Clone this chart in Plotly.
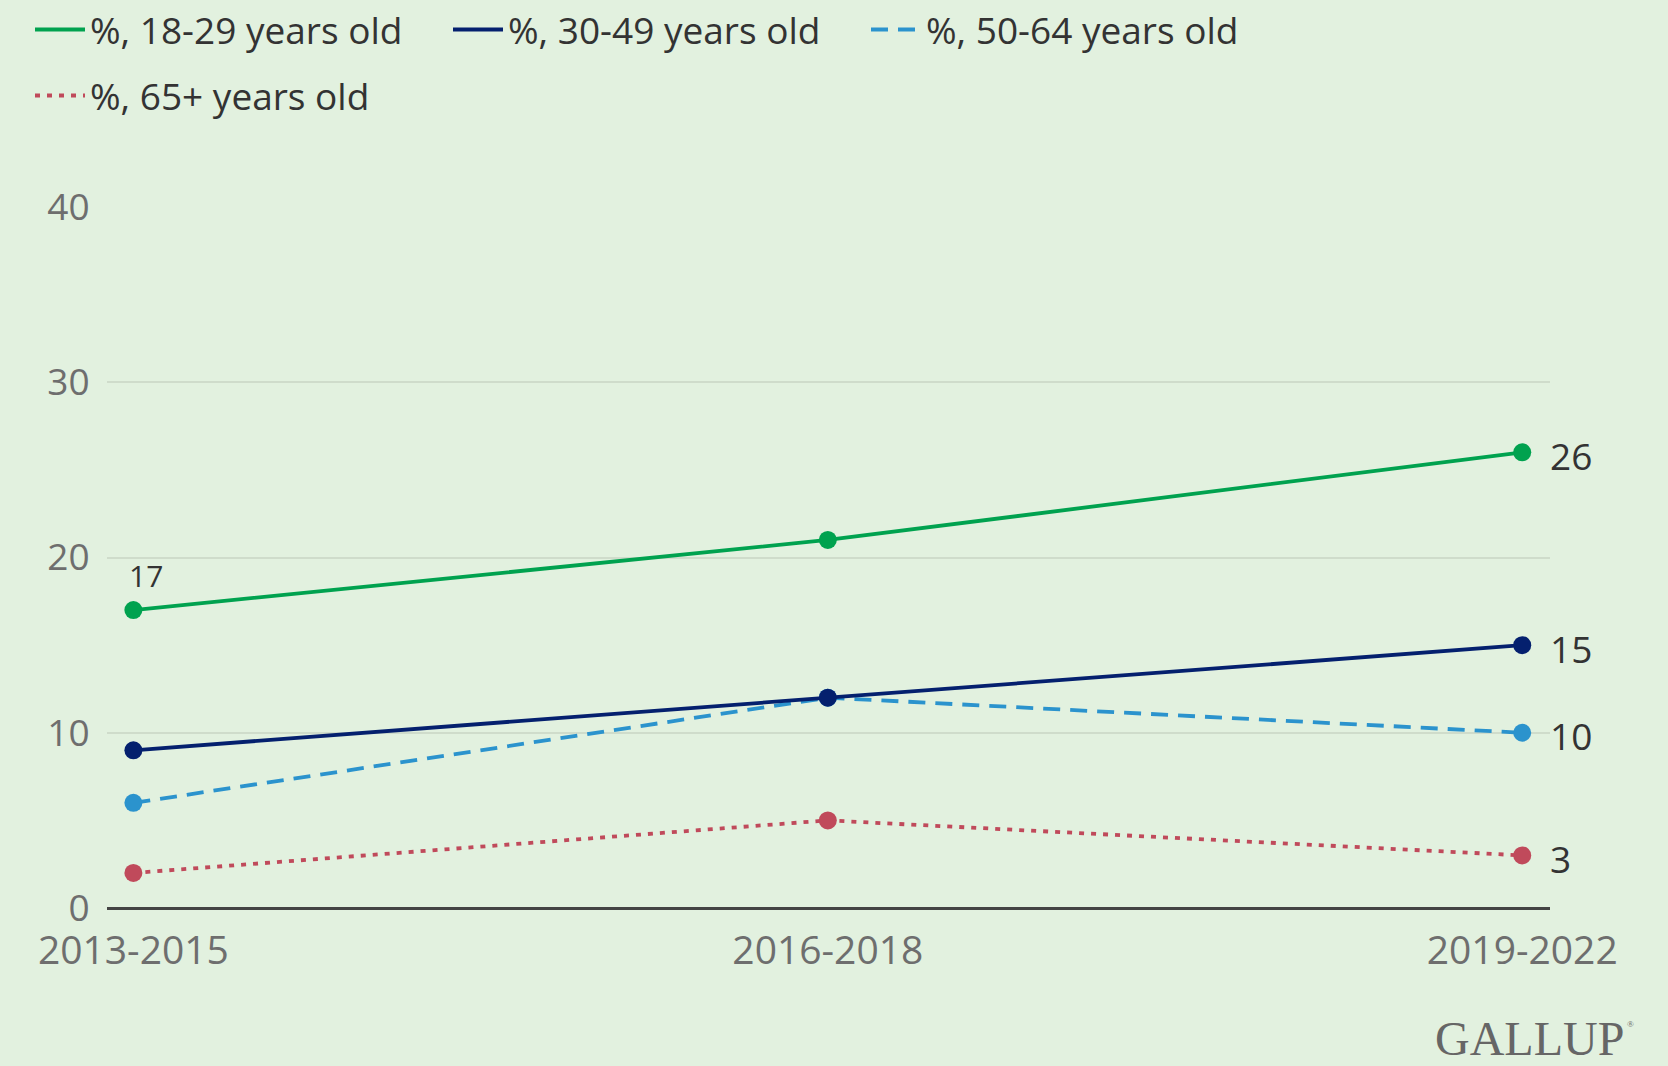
import plotly.graph_objects as go

periods = ["2013-2015", "2016-2018", "2019-2022"]
series_names = ["%, 18-29 years old", "%, 30-49 years old", "%, 50-64 years old", "%, 65+ years old"]
age_18_29 = [17, 21, 26]
age_30_49 = [9, 12, 15]
age_50_64 = [6, 12, 10]
age_65_plus = [2, 5, 3]
y_ticks = [0, 10, 20, 30, 40]

colors = ["#00A24F", "#04206E", "#2B93CD", "#C04A5B"]
dashes = ["solid", "solid", "17px,10px", "5px,7px"]
legends = ["legend", "legend", "legend", "legend2"]
values = [age_18_29, age_30_49, age_50_64, age_65_plus]

FONT = "Open Sans"
BG = "#E2F1DF"
fig = go.Figure()
xs = list(range(len(periods)))
# draw older groups first so that younger groups sit on top
for name, vals, c, d in reversed(list(zip(series_names, values, colors, dashes))):
    fig.add_trace(go.Scatter(
        x=xs, y=vals, name=name, mode="lines+markers",
        line=dict(color=c, width=3.8, dash=d),
        marker=dict(color=c, size=18),
        showlegend=False, cliponaxis=False,
    ))
# legend entries (lines only)
for name, c, d, lg in zip(series_names, colors, dashes, legends):
    fig.add_trace(go.Scatter(
        x=[None], y=[None], name=name, mode="lines",
        line=dict(color=c, width=4, dash=d), legend=lg, showlegend=True,
    ))

# end labels
for vals in values:
    fig.add_annotation(x=xs[-1], y=vals[-1], text=str(vals[-1]), showarrow=False,
                       xanchor="left", yanchor="middle", xshift=26, yshift=-3,
                       font=dict(size=37, color="#333333", family=FONT))
# first label for youngest group
fig.add_annotation(x=xs[0], y=age_18_29[0], text=str(age_18_29[0]), showarrow=False,
                   xanchor="center", yanchor="bottom", xshift=13, yshift=12,
                   font=dict(size=30, color="#333333", family=FONT))

fig.add_annotation(xref="paper", yref="paper", x=1.052, y=-0.186,
                   text="GALLUP", showarrow=False, xanchor="right", yanchor="middle",
                   borderpad=0, font=dict(size=48, color="#666666", family="Liberation Serif"))
fig.add_annotation(xref="paper", yref="paper", x=1.053, y=-0.165,
                   text="®", showarrow=False, xanchor="left", yanchor="middle",
                   borderpad=0, font=dict(size=9, color="#666666", family="Liberation Serif"))

fig.update_layout(
    width=1668, height=1066,
    paper_bgcolor=BG, plot_bgcolor=BG,
    margin=dict(l=107, r=118, t=207, b=158),
    font=dict(family=FONT, color="#333333"),
    legend=dict(orientation="h", x=30 / 1668, xref="container", xanchor="left",
                y=1 - 30 / 1066, yref="container", yanchor="middle",
                font=dict(size=37, color="#333333", family=FONT), bgcolor="rgba(0,0,0,0)",
                entrywidth=353, itemwidth=50),
    legend2=dict(orientation="h", x=30 / 1668, xref="container", xanchor="left",
                 y=1 - 96 / 1066, yref="container", yanchor="middle",
                 font=dict(size=37, color="#333333", family=FONT), bgcolor="rgba(0,0,0,0)",
                 itemwidth=50),
    xaxis=dict(tickmode="array", tickvals=xs, ticktext=periods,
               range=[-0.038, 2.04], showgrid=False, zeroline=False,
               showline=False, ticks="outside", ticklen=8, tickcolor="rgba(0,0,0,0)",
               tickfont=dict(size=39, color="#6E6E6E", family=FONT)),
    yaxis=dict(tickmode="array", tickvals=y_ticks, range=[0, 40], showgrid=True,
               gridcolor="#CFDCCB", gridwidth=2, zeroline=True, zerolinecolor="#444444",
               zerolinewidth=3, showline=False, ticks="outside", ticklen=9,
               tickcolor="rgba(0,0,0,0)", tickfont=dict(size=37, color="#6E6E6E", family=FONT)),
)

fig.write_html("out.html")
